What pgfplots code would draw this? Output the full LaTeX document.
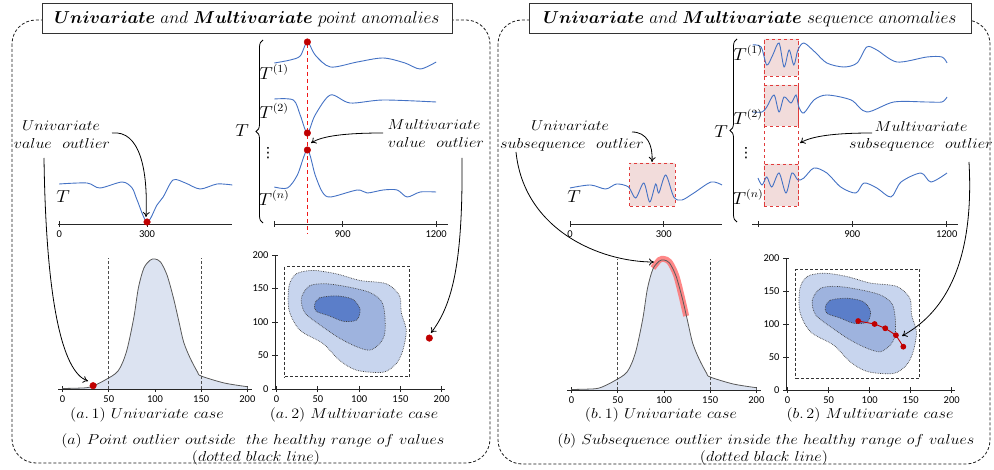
\documentclass[border=0pt]{standalone}
\usepackage{pgfplots}
\pgfplotsset{compat=1.18}
\usepackage{pgfplotstable}
\usepackage{graphicx}
\usepackage{fontspec}
\newfontfamily\carlito{Carlito}
\newfontfamily\dejavu{DejaVu Sans}
\usetikzlibrary{decorations.pathreplacing,arrows.meta}

\definecolor{tsblue}{HTML}{4472C4}
\definecolor{dotred}{HTML}{C00000}
\definecolor{dashred}{HTML}{E03C3C}
\definecolor{vred}{HTML}{F01818}
\definecolor{pinkbox}{HTML}{F2DCDB}
\definecolor{densfill}{HTML}{DCE3F1}
\definecolor{cA}{HTML}{C8D5EE}
\definecolor{cB}{HTML}{9EB3DE}
\definecolor{cC}{HTML}{5B7EC9}

\newcommand{\tl}{\fontsize{10.5}{12}\selectfont\carlito}
\newcommand{\lab}{\fontsize{14.5}{16}\selectfont}
\newcommand{\tlab}{\fontsize{16}{18}\selectfont}
\newcommand{\capf}{\fontsize{14}{16}\selectfont}
\newcommand{\ttl}{\fontsize{17}{20}\selectfont}

% skewed density of the healthy values
\pgfplotstableread{
x y
0 0.5
15 0.8
26 1.3
33 3
46 9
60 18
69 37
77 71
82 101
88 121
95 129
100 130
106 127
113 114
120 91
126 67
131 47
138 31
146 17
150 13
175 6
200 2.3
}\dens

% density contours (outer, middle, inner)
\pgfplotstableread{
x y
15 154
24 172
44 177
72 172
101 162
133 157
149 139
151 114
157 88
153 58
145 38
129 25
97 28
76 43
56 68
28 88
15 118
}\contA
\pgfplotstableread{
x y
30 136
40 154
60 157
88 152
113 144
127 131
131 111
131 83
125 68
113 58
97 63
76 76
52 96
34 114
}\contB
\pgfplotstableread{
x y
46 126
52 136
72 139
92 134
101 119
97 103
81 101
64 109
48 116
}\contC

\pgfplotsset{
  base/.style={scale only axis, enlargelimits=false, clip=false,
    tick label style={font=\tl}, /pgf/number format/assume math mode=true,
    axis line style={line width=0.9pt, black!85}, tick style={line width=0.9pt, black!85},
    xtick align=center, ytick align=center, major tick length=6pt},
  ts/.style={base, axis x line*=bottom, axis y line=none, ymin=0},
  cont/.style={base, axis lines*=left, xmin=-2, xmax=204, ymin=0, ymax=200,
    xtick={0,50,100,150,200}, ytick={0,50,100,150,200}},
  blob/.style={smooth cycle, draw=black!75, densely dotted, line width=0.7pt},
  tsline/.style={smooth, draw=tsblue, line width=0.9pt},
}

\begin{document}
\begin{tikzpicture}[x=1pt,y=1pt]
\path[use as bounding box] (0,0) rectangle (994,-470);

% panels
\draw[gray!20!black, line width=0.8pt, dash pattern=on 3pt off 2pt, rounded corners=24pt] (12,-20) rectangle (490,-463);
\draw[gray!20!black, line width=0.8pt, dash pattern=on 3pt off 2pt, rounded corners=24pt] (498,-20) rectangle (990,-464);
\node[draw=black!80, line width=1pt, fill=white, minimum width=410pt, minimum height=30pt, inner sep=0pt] at (247,-19)
  {\ttl{\boldmath$Univariate$} $and$ {\boldmath$Multivariate$} $point\ anomalies$};
\node[draw=black!80, line width=1pt, fill=white, minimum width=442pt, minimum height=30pt, inner sep=0pt] at (750,-19)
  {\ttl{\boldmath$Univariate$} $and$ {\boldmath$Multivariate$} $sequence\ anomalies$};

% red guide through the multivariate point outlier
\draw[vred, dash pattern=on 4pt off 3pt, line width=1.3pt] (307.5,-44) -- (307.5,-234);

% (a) univariate series
\begin{axis}[ts, at={(58pt,-224pt)}, anchor=south west, width=174pt, height=60pt,
  xmin=-4, xmax=590, ymax=60, xtick={0,300}, xticklabels={0,300}]
\addplot[tsline] coordinates {(0,40) (95,41) (139,36) (215,42) (249,36) (266,24) (300,2) (334,19) (355,27) (389,44) (431,41) (481,35) (539,40) (591,39)};
\addplot[only marks, mark=*, mark size=3.3pt, color=dotred] coordinates {(300,2)};
\end{axis}

% (a) multivariate series
\begin{axis}[ts, at={(274pt,-224pt)}, anchor=south west, width=174pt, height=190pt,
  xmin=680, xmax=1238, ymax=190, xtick={681,900,1200}, xticklabels={,900,1200}]
\addplot[tsline] coordinates {(681,161) (732,164) (764,168) (787,182) (812,169) (861,157) (947,162) (1030,166) (1100,161) (1149,155) (1200,162)};
\addplot[tsline] coordinates {(681,125) (742,124) (764,109) (787,91) (812,109) (861,129) (924,121) (1030,124) (1200,122)};
\addplot[tsline] coordinates {(681,37) (723,36) (755,49) (787,74) (812,49) (835,32) (861,27) (947,34) (979,31) (1030,34) (1075,34) (1107,27) (1149,32) (1200,32)};
\addplot[only marks, mark=*, mark size=3.3pt, color=dotred] coordinates {(787,182) (787,91) (787,74)};
\end{axis}

% (a.1) univariate density
\begin{axis}[ts, at={(58pt,-389pt)}, anchor=south west, width=194pt, height=135pt,
  xmin=-5, xmax=205, ymax=135, xtick={0,50,100,150,200}]
\addplot[fill=densfill, draw=none, smooth] table {\dens} \closedcycle;
\addplot[smooth, draw=black!65, line width=0.8pt] table {\dens};
\addplot[densely dashed, draw=black!70, line width=0.9pt] coordinates {(50,0) (50,131)};
\addplot[densely dashed, draw=black!70, line width=0.9pt] coordinates {(150,0) (150,131)};
\addplot[only marks, mark=*, mark size=3.3pt, color=dotred] coordinates {(33,3.3)};
\end{axis}

% (a.2) multivariate density
\begin{axis}[cont, at={(275pt,-389pt)}, anchor=south west, width=170pt, height=134pt]
\addplot[blob, fill=cA] table {\contA};
\addplot[blob, fill=cB] table {\contB};
\addplot[blob, fill=cC] table {\contC};
\addplot[densely dashed, draw=black!80, line width=0.9pt] coordinates {(10,18) (161,18) (161,183) (10,183) (10,18)};
\addplot[only marks, mark=*, mark size=3.3pt, color=dotred] coordinates {(185,76)};
\end{axis}

% (b) univariate series
\begin{axis}[ts, at={(570pt,-224pt)}, anchor=south west, width=152pt, height=70pt,
  xmin=0, xmax=486, ymax=70, xtick={0,300}, xticklabels={0,300}]
\addplot[fill=pinkbox, draw=dashred, dashed, line width=0.9pt] coordinates {(191,18) (336,18) (336,61) (191,61) (191,18)};
\addplot[tsline] coordinates {(0,36) (65,39) (114,35) (149,40) (187,37) (210,26) (236,41) (255,22) (274,40) (284,31) (306,49) (332,27) (358,24) (396,31) (451,42) (486,39)};
\end{axis}

% (b) multivariate series
\begin{axis}[ts, at={(752pt,-224pt)}, anchor=south west, width=206pt, height=190pt,
  xmin=581, xmax=1236, ymax=190, xtick={600,900,1200}, xticklabels={,900,1200}]
\addplot[fill=pinkbox, draw=dashred, dashed, line width=0.9pt] coordinates {(619,148) (730,148) (730,185) (619,185) (619,148)};
\addplot[fill=pinkbox, draw=dashred, dashed, line width=0.9pt] coordinates {(619,98) (730,98) (730,139) (619,139) (619,98)};
\addplot[fill=pinkbox, draw=dashred, dashed, line width=0.9pt] coordinates {(619,18) (730,18) (730,60) (619,60) (619,18)};
\addplot[draw=dashred, dashed, line width=0.9pt] coordinates {(619,18) (619,185)};
\addplot[draw=dashred, dashed, line width=0.9pt] coordinates {(730,18) (730,185)};
\addplot[tsline] coordinates {(583,179) (610,177) (628,159) (647,169) (667,181) (683,157) (699,174) (714,159) (727,174) (746,181) (781,172) (819,161) (873,157) (915,161) (946,177) (978,174) (1042,162) (1137,167) (1185,167) (1201,161)};
\addplot[tsline] coordinates {(583,112) (613,112) (628,117) (651,129) (667,112) (683,127) (705,121) (721,129) (730,117) (746,111) (778,124) (819,129) (896,124) (946,112) (1032,122) (1137,122) (1185,122) (1201,127)};
\addplot[tsline] coordinates {(600,46) (613,39) (628,47) (644,37) (667,51) (689,31) (708,51) (727,44) (746,46) (778,56) (819,51) (863,37) (911,31) (937,41) (978,36) (1023,27) (1055,42) (1118,51) (1150,42) (1201,51)};
\end{axis}

% (b.1) univariate density
\begin{axis}[ts, at={(567pt,-390pt)}, anchor=south west, width=194pt, height=135pt,
  xmin=-5, xmax=205, ymax=135, xtick={0,50,100,150,200}]
\addplot[fill=densfill, draw=none, smooth] table {\dens} \closedcycle;
\addplot[smooth, draw=red!55!white, opacity=0.85, line width=6pt] coordinates {(88,122) (95,130) (100,131) (106,128) (113,115) (119,94) (124,74)};
\addplot[smooth, draw=black!65, line width=0.8pt] table {\dens};
\addplot[densely dashed, draw=black!70, line width=0.9pt] coordinates {(50,0) (50,131)};
\addplot[densely dashed, draw=black!70, line width=0.9pt] coordinates {(150,0) (150,131)};
\end{axis}

% (b.2) multivariate density
\begin{axis}[cont, at={(786pt,-390pt)}, anchor=south west, width=169pt, height=132pt]
\addplot[blob, fill=cA] table {\contA};
\addplot[blob, fill=cB] table {\contB};
\addplot[blob, fill=cC] table {\contC};
\addplot[densely dashed, draw=black!80, line width=0.9pt] coordinates {(10,18) (161,18) (161,183) (10,183) (10,18)};
\addplot[color=dotred, line width=0.9pt, mark=*, mark size=2.4pt] coordinates {(86,104.5) (106,100) (119,93.5) (132,83) (141,65.6)};
\end{axis}

% braces and series names
\draw[decorate, decoration={brace, amplitude=7pt}, line width=0.8pt] (263,-223) -- (263,-40);
\draw[decorate, decoration={brace, amplitude=7pt}, line width=0.8pt] (737,-222) -- (737,-39);
\begin{scope}[every node/.style={font=\tlab, inner sep=0pt, xscale=1.1, transform shape}]
\node at (242,-131) {$T$};
\node at (274,-72) {$T^{(1)}$};
\node at (274,-111) {$T^{(2)}$};
\node at (268,-153) {\dejavu\fontsize{14}{16}\selectfont ⋮};
\node at (274,-198) {$T^{(n)}$};
\node at (63,-197) {$T$};
\node at (721,-132) {$T$};
\node at (748,-53) {$T^{(1)}$};
\node at (748,-117) {$T^{(2)}$};
\node at (746,-153) {\dejavu\fontsize{14}{16}\selectfont ⋮};
\node at (748,-197) {$T^{(n)}$};
\node at (574,-197) {$T$};
\end{scope}
\begin{scope}[every node/.style={font=\lab, inner sep=0pt, xscale=1.12, transform shape}]
\node at (61,-126) {$Univariate$};
\node at (62,-144) {$value\ \ outlier$};
\node at (434,-125) {$Multivariate$};
\node at (436,-143) {$value\ \ outlier$};
\node at (570,-126) {$Univariate$};
\node at (572,-145) {$subsequence\ \ outlier$};
\node at (921,-127) {$Multivariate$};
\node at (921,-145) {$subsequence\ \ outlier$};
\end{scope}

% arrows
\begin{scope}[line width=0.8pt, -{To[length=5pt,width=7pt]}]
\draw (112,-133) .. controls (140,-130) and (148,-170) .. (146,-217);
\draw (44,-158) .. controls (46,-300) and (62,-372) .. (88,-381);
\draw (383,-133) .. controls (345,-133) and (322,-136) .. (311,-143);
\draw (462,-158) .. controls (463,-265) and (452,-305) .. (431,-333);
\draw (632,-132) .. controls (647,-132) and (653,-145) .. (652,-162);
\draw (516,-152) .. controls (524,-230) and (600,-262) .. (654,-262);
\draw (872,-133) .. controls (835,-133) and (812,-136) .. (800,-143);
\draw (969,-162) .. controls (975,-270) and (940,-315) .. (902,-336);
\end{scope}

% captions
\begin{scope}[every node/.style={font=\capf, inner sep=0pt, xscale=1.12, transform shape}]
\node at (147,-415) {$(a.\,1)\ Univariate\ case$};
\node at (354,-415) {$(a.\,2)\ Multivariate\ case$};
\node at (253,-441) {$(a)\ Point\ outlier\ outside\ \ the\ healthy\ range\ of\ values$};
\node at (256,-458) {$(dotted\ black\ line)$};
\node at (661,-415) {$(b.\,1)\ Univariate\ case$};
\node at (870,-415) {$(b.\,2)\ Multivariate\ case$};
\node at (766,-441) {$(b)\ Subsequence\ outlier\ inside\ the\ healthy\ range\ of\ values$};
\node at (764,-458) {$(dotted\ black\ line)$};
\end{scope}
\end{tikzpicture}
\end{document}
